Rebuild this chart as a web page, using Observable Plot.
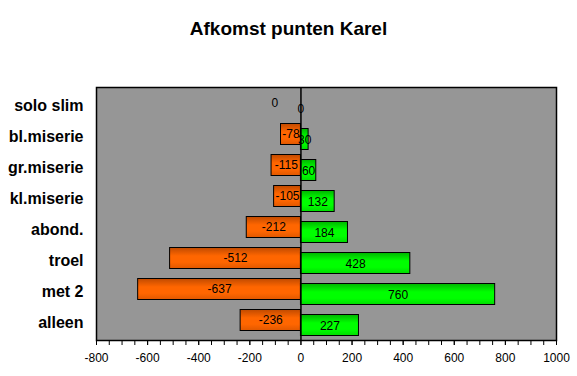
<!DOCTYPE html>
<html>
<head>
<meta charset="utf-8">
<script src="https://cdn.jsdelivr.net/npm/d3@7"></script>
<script src="https://cdn.jsdelivr.net/npm/@observablehq/plot@0.6"></script>
<style>
  body { margin: 0; background: #fff; font-family: "Liberation Sans", Arial, sans-serif; }
  #wrap { position: relative; width: 577px; height: 376px; }
  #title { position: absolute; left: 0; top: 18px; width: 577px; text-align: center; font-weight: bold; font-size: 19px; color: #000; }
</style>
</head>
<body>
<div id="wrap"><div id="title">Afkomst punten Karel</div></div>
<script>
const categories = ["solo slim", "bl.miserie", "gr.miserie", "kl.miserie", "abond.", "troel", "met 2", "alleen"];
const negValues = [0, -78, -115, -105, -212, -512, -637, -236];
const posValues = [0, 30, 60, 132, 184, 428, 760, 227];
const majorTicks = [-800, -600, -400, -200, 0, 200, 400, 600, 800, 1000];

const neg = categories.map((c, i) => ({cat: c, v: negValues[i]}));
const pos = categories.map((c, i) => ({cat: c, v: posValues[i]}));
const minorTicks = d3.range(-800, 1001, 50);

const font = '"Liberation Sans", Arial, sans-serif';

const chart = Plot.plot({
  width: 577,
  height: 376,
  marginLeft: 96,
  marginRight: 21,
  marginTop: 87,
  marginBottom: 36,
  style: {background: "transparent", fontFamily: font, fontSize: "12px", color: "#000"},
  x: {domain: [-800, 1000], label: null},
  y: {domain: categories, paddingInner: 0.33, paddingOuter: 0.165, label: null},
  marks: [
    Plot.frame({fill: "#969696", stroke: "none"}),
    Plot.barX(neg.filter(d => d.v !== 0), {x: "v", y: "cat", dy: -2.5, fill: "url(#gO)", stroke: "#000", strokeWidth: 1}),
    Plot.barX(pos.filter(d => d.v !== 0), {x: "v", y: "cat", dy: 2.5, fill: "url(#gG)", stroke: "#000", strokeWidth: 1}),
    Plot.ruleX([0], {stroke: "#000", strokeWidth: 1.5}),
    Plot.frame({stroke: "#000", strokeWidth: 1.5}),
    Plot.text(neg.filter(d => d.v !== 0), {x: d => d.v / 2, y: "cat", dy: -2.5, text: d => String(d.v), fontSize: 12, fill: "#000"}),
    Plot.text(pos.filter(d => d.v !== 0), {x: d => d.v / 2, y: "cat", dy: 3, text: d => String(d.v), fontSize: 12, fill: "#000"}),
    Plot.text(neg.filter(d => d.v === 0), {x: "v", y: "cat", dy: -3, dx: -26, text: d => String(d.v), fontSize: 12, fill: "#000"}),
    Plot.text(pos.filter(d => d.v === 0), {x: "v", y: "cat", dy: 3, text: d => String(d.v), fontSize: 12, fill: "#000"}),
    Plot.axisX(minorTicks, {tickSize: 5, text: null, stroke: "#000", label: null}),
    Plot.axisX(majorTicks, {tickSize: 5, tickPadding: 8, fontSize: 12, tickFormat: d => String(d), stroke: "#000", fill: "#000", label: null}),
    Plot.axisY({tickSize: 0, tickPadding: 13, fontSize: 16, fontWeight: "bold", fill: "#000", label: null})
  ]
});

const ns = "http://www.w3.org/2000/svg";
const defs = document.createElementNS(ns, "defs");
function grad(id, dark, bright, mid) {
  const g = document.createElementNS(ns, "linearGradient");
  g.setAttribute("id", id);
  g.setAttribute("x1", "0"); g.setAttribute("y1", "0");
  g.setAttribute("x2", "0"); g.setAttribute("y2", "1");
  [[0, dark], [0.4, bright], [0.7, bright], [1, mid]].forEach(([o, c]) => {
    const s = document.createElementNS(ns, "stop");
    s.setAttribute("offset", o);
    s.setAttribute("stop-color", c);
    g.appendChild(s);
  });
  defs.appendChild(g);
}
grad("gO", "#c04a00", "#ff6600", "#e05800");
grad("gG", "#00b400", "#00ff00", "#00dc00");
chart.insertBefore(defs, chart.firstChild);
chart.style.position = "absolute";
chart.style.left = "0";
chart.style.top = "0";
document.getElementById("wrap").appendChild(chart);
document.getElementById("wrap").appendChild(document.getElementById("title"));
</script>
</body>
</html>
